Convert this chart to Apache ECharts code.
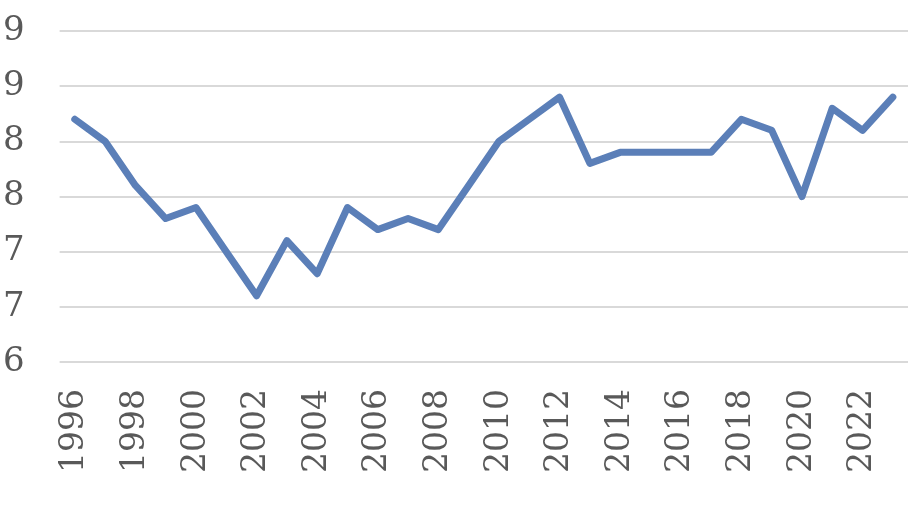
<!DOCTYPE html>
<html>
<head>
<meta charset="utf-8">
<script src="https://cdn.jsdelivr.net/npm/echarts@6/dist/echarts.min.js"></script>
<style>html,body{margin:0;padding:0;background:#fff;}#c{width:918px;height:512px;}</style>
</head>
<body>
<div id="c"></div>
<script>
var years = ['1996','1997','1998','1999','2000','2001','2002','2003','2004','2005','2006','2007','2008','2009','2010','2011','2012','2013','2014','2015','2016','2017','2018','2019','2020','2021','2022','2023'];
var values = [8.2, 8.0, 7.6, 7.3, 7.4, 7.0, 6.6, 7.1, 6.8, 7.4, 7.2, 7.3, 7.2, 7.6, 8.0, 8.2, 8.4, 7.8, 7.9, 7.9, 7.9, 7.9, 8.2, 8.1, 7.5, 8.3, 8.1, 8.4];
var yMin = 6, yMax = 9, yStep = 0.5;

var chart = echarts.init(document.getElementById('c'), null, {renderer: 'canvas'});
chart.setOption({
  animation: false,
  grid: {left: 58, right: 10, top: 31, bottom: 150, containLabel: false},
  xAxis: {
    type: 'category',
    data: years,
    boundaryGap: true,
    axisLine: {show: false},
    axisTick: {show: false},
    axisLabel: {
      interval: 1,
      rotate: 90,
      margin: 27,
      fontFamily: 'DejaVu Serif',
      fontSize: 33,
      color: '#595959'
    }
  },
  yAxis: {
    type: 'value',
    min: yMin, max: yMax, interval: yStep,
    axisLine: {show: false},
    axisTick: {show: false},
    splitLine: {lineStyle: {color: '#d9d9d9', width: 2}},
    axisLabel: {
      margin: 35,
      fontFamily: 'DejaVu Serif',
      fontSize: 34,
      color: '#595959',
      formatter: function (v) { return String(Math.round(v)); }
    }
  },
  series: [{
    type: 'line',
    data: values,
    symbol: 'none',
    lineStyle: {color: '#5b7fb8', width: 7, cap: 'round', join: 'round'}
  }]
});
</script>
</body>
</html>
